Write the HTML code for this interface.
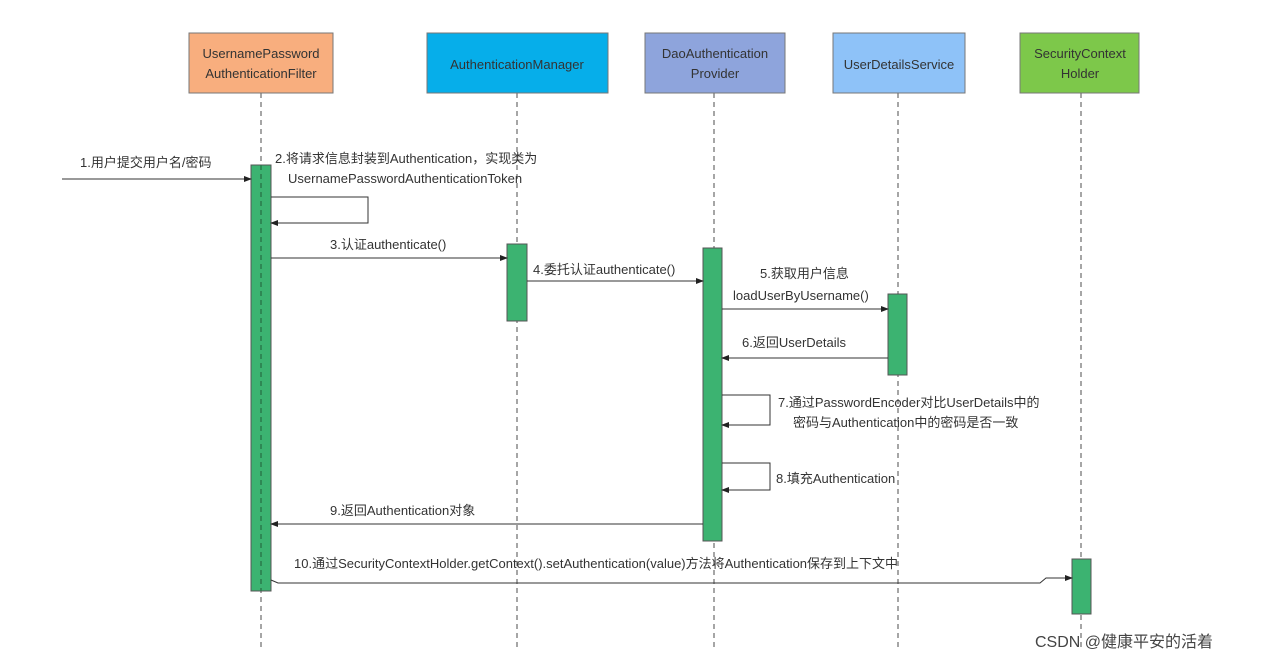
<!DOCTYPE html>
<html><head><meta charset="utf-8"><style>
body{margin:0;background:#fff;}
svg text{font-family:"Liberation Sans","Noto Sans CJK SC",sans-serif;font-size:13px;fill:#333;}
</style></head><body>
<svg width="1276" height="660" xmlns="http://www.w3.org/2000/svg">
<defs><marker id="a" markerWidth="8" markerHeight="8" refX="7" refY="4" orient="auto" markerUnits="userSpaceOnUse"><path d="M0,1 L8,4 L0,7 z" fill="#222"/></marker></defs>
<g stroke="#888" stroke-width="1.5" stroke-dasharray="5,4">
<line x1="261" y1="93" x2="261" y2="650"/><line x1="517" y1="93" x2="517" y2="650"/>
<line x1="714" y1="93" x2="714" y2="650"/><line x1="898" y1="93" x2="898" y2="650"/>
<line x1="1081" y1="93" x2="1081" y2="650"/></g>
<g stroke="#777" stroke-width="1">
<rect x="189" y="33" width="144" height="60" fill="#f8ae7e"/>
<rect x="427" y="33" width="181" height="60" fill="#06aeea"/>
<rect x="645" y="33" width="140" height="60" fill="#8ea4dc"/>
<rect x="833" y="33" width="132" height="60" fill="#8ec2f8"/>
<rect x="1020" y="33" width="119" height="60" fill="#7dc84a"/>
</g>
<g text-anchor="middle">
<text x="261" y="58">UsernamePassword</text><text x="261" y="78">AuthenticationFilter</text>
<text x="517" y="69">AuthenticationManager</text>
<text x="715" y="58">DaoAuthentication</text><text x="715" y="78">Provider</text>
<text x="899" y="69">UserDetailsService</text>
<text x="1080" y="58">SecurityContext</text><text x="1080" y="78">Holder</text>
</g>
<g fill="#3cb371" stroke="#555" stroke-width="1">
<rect x="251" y="165" width="20" height="426"/>
<rect x="507" y="244" width="20" height="77"/>
<rect x="703" y="248" width="19" height="293"/>
<rect x="888" y="294" width="19" height="81"/>
<rect x="1072" y="559" width="19" height="55"/>
</g>
<line x1="261" y1="165" x2="261" y2="591" stroke="#2a7a4a" stroke-width="1.5" stroke-dasharray="5,4"/>
<g stroke="#333" stroke-width="1" fill="none" marker-end="url(#a)">
<line x1="62" y1="179" x2="251" y2="179"/>
<polyline points="271,197 368,197 368,223 271,223"/>
<line x1="271" y1="258" x2="507" y2="258"/>
<line x1="527" y1="281" x2="703" y2="281"/>
<line x1="722" y1="309" x2="888" y2="309"/>
<line x1="888" y1="358" x2="722" y2="358"/>
<polyline points="722,395 770,395 770,425 722,425"/>
<polyline points="722,463 770,463 770,490 722,490"/>
<line x1="703" y1="524" x2="271" y2="524"/>
<polyline points="271,580 278,583 1040,583 1046,578 1072,578"/>
</g>
<text x="80" y="167">1.用户提交用户名/密码</text>
<text x="275" y="163">2.将请求信息封装到Authentication，实现类为</text>
<text x="288" y="183">UsernamePasswordAuthenticationToken</text>
<text x="330" y="249">3.认证authenticate()</text>
<text x="533" y="274">4.委托认证authenticate()</text>
<text x="760" y="278">5.获取用户信息</text>
<text x="733" y="300">loadUserByUsername()</text>
<text x="742" y="347">6.返回UserDetails</text>
<text x="778" y="407">7.通过PasswordEncoder对比UserDetails中的</text>
<text x="793" y="427">密码与Authentication中的密码是否一致</text>
<text x="776" y="483">8.填充Authentication</text>
<text x="330" y="515">9.返回Authentication对象</text>
<text x="294" y="568">10.通过SecurityContextHolder.getContext().setAuthentication(value)方法将Authentication保存到上下文中</text>
<text x="1035" y="647" style="font-size:16px;fill:#444">CSDN @健康平安的活着</text>
</svg>
</body></html>
